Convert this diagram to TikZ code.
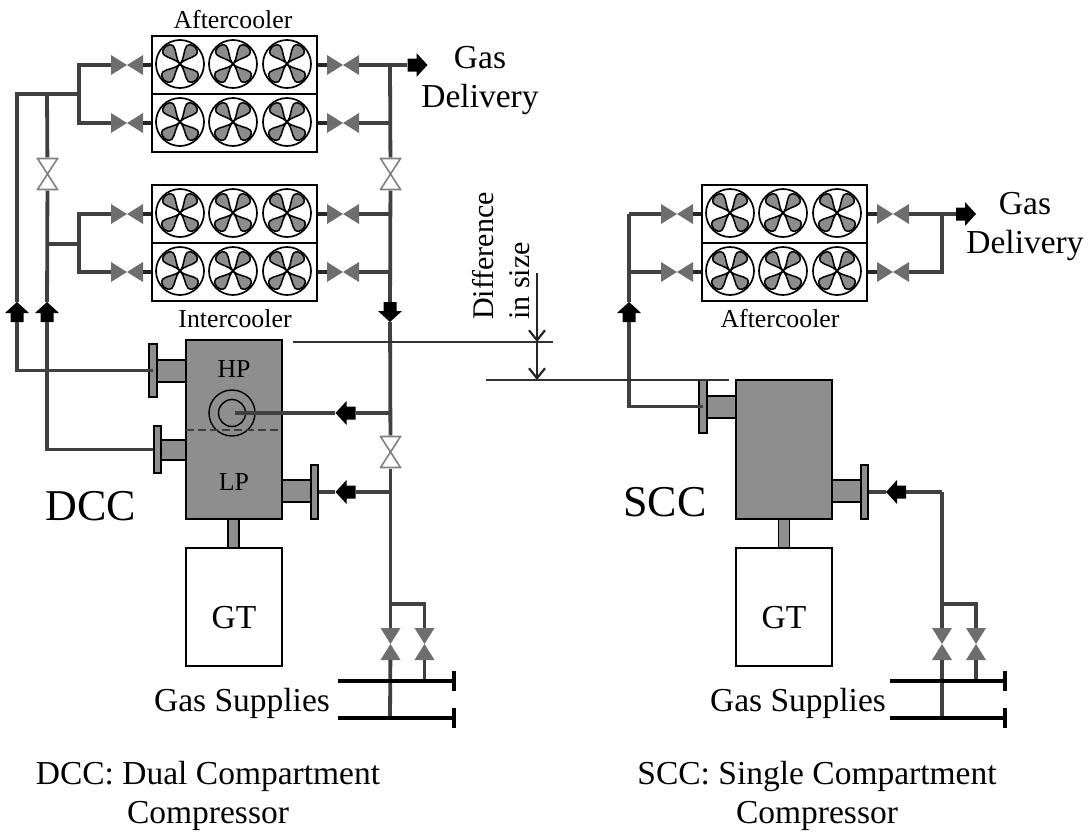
\documentclass[tikz,border=0pt]{standalone}
\usepackage{fontspec}
\setmainfont{Liberation Serif}
\usetikzlibrary{arrows.meta}
\definecolor{pipegray}{HTML}{404040}
\definecolor{bodygray}{HTML}{8E8E8E}
\definecolor{valvegray}{HTML}{6E6E6E}
\tikzset{
    labelm/.style={anchor=base, inner sep=0, font=\fontsize{25.8}{30}\selectfont},
    labell/.style={anchor=base, inner sep=0, align=center, font=\fontsize{33.5}{38.5}\selectfont},
    labelh/.style={anchor=base, inner sep=0, font=\fontsize{44}{50}\selectfont},
    labelr/.style={anchor=base west, inner sep=0, rotate=90, font=\fontsize{30}{34}\selectfont},
    coolerbox/.style={rectangle, draw=black, line width=1.3, fill=white, minimum width=165, minimum height=58, inner sep=0},
    fan/.style={circle, draw=black, line width=1.7, minimum size=48, inner sep=0, path picture={
        \foreach \ang in {-50,-130,-225,-315}
            \filldraw[fill=gray!90, draw=black, line width=1.5, shift={(path picture bounding box.center)}]
                (0,0) .. controls (\ang+3:8) and (\ang+26:13) .. (\ang+20:19)
                .. controls (\ang+13:25) and (\ang-13:25) .. (\ang-20:19)
                .. controls (\ang-26:13) and (\ang-3:8) .. (0,0);
    }},
    block/.style={rectangle, draw=black, line width=1.4, fill=bodygray, inner sep=0},
    gtbox/.style={rectangle, draw=black, line width=1.4, fill=white, minimum width=96, minimum height=118, inner sep=0},
    valveh/.style={rectangle, minimum width=32, minimum height=20, inner sep=0, path picture={
        \fill[valvegray, shift={(path picture bounding box.center)}] (-16,-10) -- (16,10) -- (16,-10) -- (-16,10) -- cycle;
    }},
    valvev/.style={rectangle, minimum width=20, minimum height=32, inner sep=0, path picture={
        \fill[valvegray, shift={(path picture bounding box.center)}] (-10,-16) -- (10,16) -- (-10,16) -- (10,-16) -- cycle;
    }},
    valvew/.style={rectangle, minimum width=22, minimum height=33, inner sep=0, path picture={
        \draw[fill=white, draw=gray, line width=1.6, shift={(path picture bounding box.center)}] (-10,-15.5) -- (10,15.5) -- (-10,15.5) -- (10,-15.5) -- cycle;
    }},
    flowup/.style={rectangle, minimum width=24, minimum height=20, inner sep=0, path picture={
        \fill[black, shift={(path picture bounding box.center)}] (-6.5,10) -- (-6.5,1) -- (-12,1) -- (0,-10) -- (12,1) -- (6.5,1) -- (6.5,10) -- cycle;
    }},
    flowdown/.style={rectangle, minimum width=24, minimum height=20, inner sep=0, path picture={
        \fill[black, shift={(path picture bounding box.center)}] (-6.5,-10) -- (-6.5,-1) -- (-12,-1) -- (0,10) -- (12,-1) -- (6.5,-1) -- (6.5,-10) -- cycle;
    }},
    flowleft/.style={rectangle, minimum width=20, minimum height=24, inner sep=0, path picture={
        \fill[black, shift={(path picture bounding box.center)}] (10,-6.5) -- (1,-6.5) -- (1,-12) -- (-10,0) -- (1,12) -- (1,6.5) -- (10,6.5) -- cycle;
    }},
    flowright/.style={rectangle, minimum width=20, minimum height=24, inner sep=0, path picture={
        \fill[black, shift={(path picture bounding box.center)}] (-10,-6.5) -- (-1,-6.5) -- (-1,-12) -- (10,0) -- (-1,12) -- (-1,6.5) -- (-10,6.5) -- cycle;
    }},
    pipe/.style={line width=3.8, draw=pipegray},
    stub/.style={line width=3.8, draw=black!85},
    supply/.style={line width=4, draw=black},
    level/.style={line width=1.5, draw=black!80},
    gap/.style={line width=1.8, draw=black!85, -{Straight Barb[length=10, width=16, line width=2.2]}}
}
\begin{document}
\begin{tikzpicture}[x=1pt, y=-1pt]
    \useasboundingbox (0,0) rectangle (1089,833);

    % cooler banks
    \foreach \name/\cx/\cy in {boxa/234.5/65, boxb/234.5/123, boxc/234.5/214, boxd/234.5/272, boxe/784.5/214, boxf/784.5/272}
        \node (\name) [coolerbox] at (\cx,\cy) {};
    \foreach \x [count=\i] in {180,233,287}
        \foreach \y [count=\j] in {64,122,213,271}
            \node (fanl\i\j) [fan] at (\x,\y) {};
    \foreach \x [count=\i] in {730,783,837}
        \foreach \y [count=\j] in {213,271}
            \node (fanr\i\j) [fan] at (\x,\y) {};

    % dual compartment machine
    \node (shaftl) [block, minimum width=11, minimum height=29] at (233.5,533.5) {};
    \node (gtl) [gtbox] at (234,607) {};
    \node (nozhp) [block, minimum width=29, minimum height=22] at (171.5,371) {};
    \node (nozlp) [block, minimum width=25, minimum height=20] at (173.5,450) {};
    \node (nozlpin) [block, minimum width=29, minimum height=22] at (296.5,491) {};
    \node (flhp) [block, minimum width=8, minimum height=53] at (153,370.5) {};
    \node (fllp) [block, minimum width=7, minimum height=47] at (157.5,449.5) {};
    \node (fllpin) [block, minimum width=7, minimum height=54] at (314.5,492) {};
    \node (dcc) [block, minimum width=96, minimum height=179] at (234,429.5) {};
    \node (ringo) [circle, draw=black, line width=1.4, minimum size=46, inner sep=0] at (232,413) {};
    \node (ringi) [circle, draw=black, line width=1.4, minimum size=27, inner sep=0] at (232,413) {};

    % single compartment machine
    \node (shaftr) [block, minimum width=11, minimum height=29] at (784,533.5) {};
    \node (gtr) [gtbox] at (784,607) {};
    \node (nozout) [block, minimum width=29, minimum height=22] at (721.5,407) {};
    \node (nozin) [block, minimum width=29, minimum height=22] at (846.5,491) {};
    \node (flout) [block, minimum width=8, minimum height=53] at (703,406.5) {};
    \node (flin) [block, minimum width=7, minimum height=54] at (864.5,492) {};
    \node (scc) [block, minimum width=96, minimum height=139] at (784,449.5) {};

    % valves
    \foreach \name/\cx/\cy in {va/127/65, vb/127/123, vc/127/214, vd/127/272, ve/343/65, vf/343/123, vg/343/214, vh/343/272, vi/677/214, vj/677/272, vk/893/214, vl/893/272}
        \node (\name) [valveh] at (\cx,\cy) {};
    \foreach \name/\cx/\cy in {vm/390.5/644, vn/424.5/644, vo/942/644, vp/976/644}
        \node (\name) [valvev] at (\cx,\cy) {};
    \node (wa) [valvew] at (47.5,174) {};
    \node (wb) [valvew] at (390.5,174) {};
    \node (wc) [valvew] at (390.5,452) {};

    % flow arrows
    \node (flowa) [flowup] at (17,312) {};
    \node (flowb) [flowup] at (47,312) {};
    \node (flowc) [flowdown] at (390,312) {};
    \node (flowd) [flowleft] at (345.5,413) {};
    \node (flowe) [flowleft] at (345.5,492) {};
    \node (flowf) [flowright] at (417.5,65) {};
    \node (flowg) [flowup] at (629,312) {};
    \node (flowh) [flowright] at (966,214) {};
    \node (flowi) [flowleft] at (896,492) {};

    % junctions
    \coordinate (bush) at (79,94);
    \coordinate (busha) at (47,94);
    \coordinate (busl) at (79,244);
    \coordinate (busla) at (47,244);
    \coordinate (ja) at (390,65);
    \coordinate (jb) at (390,123);
    \coordinate (jc) at (390,214);
    \coordinate (jd) at (390,272);
    \coordinate (je) at (390,413);
    \coordinate (jf) at (390,492);
    \coordinate (jg) at (390,604);
    \coordinate (hub) at (235,413);
    \coordinate (jh) at (629,272);
    \coordinate (ji) at (629,214);
    \coordinate (jk) at (942,214);
    \coordinate (jl) at (942,272);
    \coordinate (jm) at (942,492);
    \coordinate (jn) at (942,604);
    \coordinate (sa) at (338,681);
    \coordinate (sb) at (454,681);
    \coordinate (sc) at (338,718);
    \coordinate (sd) at (454,718);
    \coordinate (se) at (890,681);
    \coordinate (sf) at (1005,681);
    \coordinate (sg) at (890,718);
    \coordinate (sh) at (1005,718);

    % pipes on the left
    \draw [pipe] (flhp.center) -| (flowa);
    \draw [pipe] (flowa) |- (bush);
    \draw [pipe] (fllp.west) -| (flowb);
    \draw [pipe] (flowb) -- (wa);
    \draw [pipe] (wa) -- (busha);
    \draw [pipe] (bush) |- (va);
    \draw [pipe] (bush) |- (vb);
    \draw [pipe] (busla) -- (busl);
    \draw [pipe] (busl) |- (vc);
    \draw [pipe] (busl) |- (vd);
    \foreach \v/\b in {va/boxa, vb/boxb, vc/boxc, vd/boxd}
        \draw [stub] (\v) -- (\b.west |- \v);
    \foreach \v/\b in {ve/boxa, vf/boxb, vg/boxc, vh/boxd}
        \draw [stub] (\v) -- (\b.east |- \v);

    % pipes on the right of the first bank
    \draw [pipe] (ve) -- (ja);
    \draw [pipe] (ja) -- (flowf);
    \draw [pipe] (vf) -- (jb);
    \draw [pipe] (vg) -- (jc);
    \draw [pipe] (vh) -- (jd);
    \draw [pipe] (ja) -- (wb);
    \draw [pipe] (wb) -- (flowc);
    \draw [pipe] (flowc) -- (wc);
    \draw [pipe] (wc) -- (vm);
    \draw [pipe] (je) -- (flowd);
    \draw [pipe] (flowd) -- (hub);
    \draw [pipe] (jf) -- (flowe);
    \draw [pipe] (flowe) -- (fllpin);
    \draw [pipe] (jg) -| (vn);
    \draw [pipe] (vm) -- (390,718);
    \draw [pipe] (vn) -- (424.5,683);

    % pipes of the second bank
    \draw [pipe] (flout.center) -| (flowg);
    \draw [pipe] (flowg) -- (ji);
    \draw [pipe] (ji) -- (vi);
    \draw [pipe] (jh) -- (vj);
    \draw [pipe] (vk) -- (jk);
    \draw [pipe] (jk) -- (flowh);
    \draw [pipe] (jk) |- (vl);
    \foreach \v/\b in {vi/boxe, vj/boxf}
        \draw [stub] (\v) -- (\b.west |- \v);
    \foreach \v/\b in {vk/boxe, vl/boxf}
        \draw [stub] (\v) -- (\b.east |- \v);
    \draw [pipe] (flin.east) -- (flowi);
    \draw [pipe] (flowi) -- (jm);
    \draw [pipe] (jm) -- (vo);
    \draw [pipe] (jn) -| (vp);
    \draw [pipe] (vo) -- (942,718);
    \draw [pipe] (vp) -- (976,683);

    % supply headers
    \draw [supply] (sa) -- (sb);
    \draw [supply] (sc) -- (sd);
    \draw [supply] (se) -- (sf);
    \draw [supply] (sg) -- (sh);
    \draw [supply] (454,671) -- (sb) -- (454,691);
    \draw [supply] (454,708) -- (sd) -- (454,728);
    \draw [supply] (1005,671) -- (sf) -- (1005,691);
    \draw [supply] (1005,708) -- (sh) -- (1005,728);

    % divider and size difference
    \coordinate (dasha) at (186,430);
    \coordinate (dashb) at (282,430);
    \draw [line width=2.2, draw=pipegray, dash pattern=on 8 off 4] (dasha) -- (dashb);
    \coordinate (levela) at (293,342);
    \coordinate (levelb) at (553,342);
    \coordinate (levelc) at (486,380);
    \coordinate (leveld) at (729,380);
    \coordinate (gapa) at (537,273);
    \coordinate (gapb) at (537,342);
    \coordinate (gapc) at (537,380);
    \draw [level] (levela) -- (levelb);
    \draw [level] (levelc) -- (leveld);
    \draw [gap] (gapa) -- (gapb);
    \draw [gap] (gapb) -- (gapc);

    % labels
    \node (acl) [labelm] at (233,28) {Aftercooler};
    \node (icl) [labelm] at (235,327) {Intercooler};
    \node (acr) [labelm] at (780,327) {Aftercooler};
    \node (hp) [labelm] at (234,377) {HP};
    \node (lp) [labelm] at (234,490) {LP};
    \node (gdl) [labell] at (480,107) {Gas\\Delivery};
    \node (gdr) [labell] at (1025,253) {Gas\\Delivery};
    \node (gtla) [labell] at (234,628) {GT};
    \node (gtra) [labell] at (784,628) {GT};
    \node (gsl) [labell] at (242,711) {Gas Supplies};
    \node (gsr) [labell] at (798,711) {Gas Supplies};
    \node (dccn) [labelh] at (91,520) {DCC};
    \node (sccn) [labelh] at (665,516) {SCC};
    \node (noted) [labell] at (208,823) {DCC: Dual Compartment\\Compressor};
    \node (notes) [labell] at (817,823) {SCC: Single Compartment\\Compressor};
    \node (diffa) [labelr] at (493,320) {Difference};
    \node (diffb) [labelr] at (529,320) {in size};
\end{tikzpicture}
\end{document}
